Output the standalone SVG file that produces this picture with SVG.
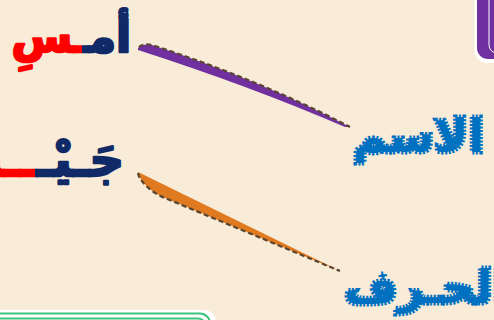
<svg xmlns="http://www.w3.org/2000/svg" width="494" height="320" viewBox="0 0 494 320">
<style>
.ar{font-family:"DejaVu Sans","Noto Sans",sans-serif;font-weight:bold}
.red{fill:#ff0000;stroke:#ff0000;stroke-width:2.5;stroke-linejoin:round}
.navy{fill:#0f2a66;stroke:#0f2a66;stroke-width:2.5;stroke-linejoin:round}
.lbl{fill:#0070c0;stroke:#0070c0;stroke-width:5;stroke-dasharray:2 1.5;stroke-linejoin:miter}
.dash{fill:none;stroke:#5a4530;stroke-width:2.2;stroke-dasharray:5 3}
</style>
<defs>
<clipPath id="c1r"><rect x="0" y="0" width="82" height="100"/></clipPath>
<clipPath id="c1b"><rect x="82" y="0" width="100" height="100"/></clipPath>
<clipPath id="c2r"><rect x="-50" y="120" width="85" height="70"/></clipPath>
<clipPath id="c2b"><rect x="35" y="120" width="120" height="70"/></clipPath>
</defs>
<rect width="494" height="320" fill="#f8ebd7"/>
<g id="box-top">
<rect x="474.5" y="-20" width="60" height="83" rx="13" fill="#fff"/>
<rect x="477" y="-20" width="60" height="79" rx="11" fill="#7030a0"/>
<rect x="489" y="-20" width="40" height="73" rx="8" fill="none" stroke="#fff" stroke-width="1"/>
</g>
<g id="box-bottom">
<rect x="-20" y="310" width="236" height="40" rx="12" fill="#fff"/>
<rect x="-20" y="313.5" width="230" height="40" rx="10" fill="#fff" stroke="#3cc47c" stroke-width="2"/>
<rect x="-20" y="318.5" width="226" height="40" rx="8" fill="none" stroke="#3cc47c" stroke-width="2"/>
</g>
<g id="word-ams">
<text class="ar red" x="131" y="52" font-size="44" text-anchor="end" clip-path="url(#c1r)">أمـسِ</text>
<text class="ar navy" x="131" y="52" font-size="44" text-anchor="end" clip-path="url(#c1b)">أمـسِ</text>
</g>
<g id="word-jaysh">
<text class="ar red" x="124" y="176" font-size="48" text-anchor="end" clip-path="url(#c2r)">جَـيْـــش</text>
<text class="ar navy" x="124" y="176" font-size="48" text-anchor="end" clip-path="url(#c2b)">جَـيْـــش</text>
</g>
<g id="label-ism">
<text class="ar lbl" x="484" y="152" font-size="46" text-anchor="end">الاسم</text>
</g>
<g id="label-harf">
<text class="ar lbl" x="508" y="303" font-size="46" text-anchor="end">الحـرف</text>
</g>
<g id="connectors">
<path d="M138,48 C142,44 147,44 152,45 Q260,80 350,127 L345,127 Q250,86 138,50 Z" fill="#7030a0"/>
<path class="dash" d="M139,47 C142,44 147,44 152,45 Q260,80 350,127"/>
<path d="M138,172 L340,271 L165,198 C150,192 139,180 138,172 Z" fill="#e07a20"/>
<path class="dash" d="M138,173 C139,180 150,192 165,198 L340,271"/>
</g>
</svg>
